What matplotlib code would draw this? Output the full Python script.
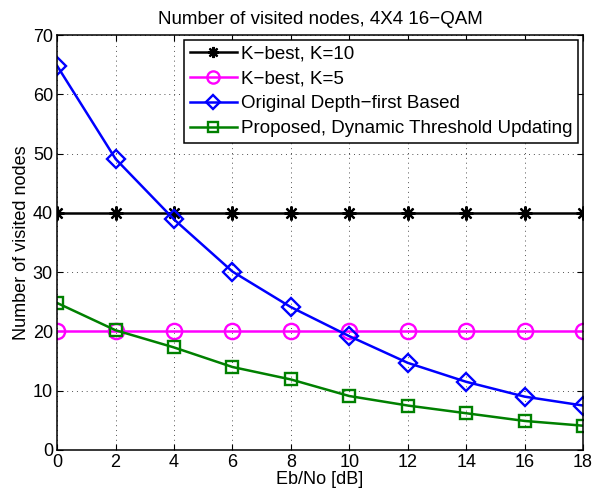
import matplotlib
matplotlib.use('Agg')
import matplotlib.pyplot as plt

plt.rcParams['font.family'] = ['Liberation Sans', 'DejaVu Sans']
plt.rcParams['font.size'] = 13

# Eb/No in dB
ebno = [0, 2, 4, 6, 8, 10, 12, 14, 16, 18]
kbest10 = [40, 40, 40, 40, 40, 40, 40, 40, 40, 40]
kbest5 = [20, 20, 20, 20, 20, 20, 20, 20, 20, 20]
depth_first = [64.8, 49.1, 38.9, 30.1, 24.1, 19.2, 14.7, 11.5, 9.0, 7.5]
proposed = [24.8, 20.2, 17.3, 14.0, 11.9, 9.1, 7.5, 6.2, 4.9, 4.1]

labels = ['K\u2212best, K=10', 'K\u2212best, K=5',
          'Original Depth\u2212first Based',
          'Proposed, Dynamic Threshold Updating']

fig = plt.figure(figsize=(5.95, 5.0), dpi=100)
ax = fig.add_axes([0.096, 0.1, 0.884, 0.83])

ax.plot(ebno, kbest10, color='black', marker=(8, 2, 0), markersize=10, mew=1.6, lw=1.8, label=labels[0])
ax.plot(ebno, kbest5, color='magenta', marker='o', markersize=11, mfc='none', mew=1.7, lw=1.8, label=labels[1])
ax.plot(ebno, depth_first, color='blue', marker='D', markersize=9, mfc='none', mew=1.7, lw=1.8, label=labels[2])
ax.plot(ebno, proposed, color='green', marker='s', markersize=8.5, mfc='none', mew=1.7, lw=1.8, label=labels[3])

ax.set_xlim(0, 18)
ax.set_ylim(0, 70)
ax.set_xticks(range(0, 19, 2))
ax.set_yticks(range(0, 71, 10))
ax.grid(True, linestyle=(0, (1, 4)), color='#505050', linewidth=0.7)
ax.tick_params(direction='in', top=True, right=True, length=4, labelsize=13, pad=3)
for s in ax.spines.values():
    s.set_linewidth(1.1)

ax.set_xlabel('Eb/No [dB]', fontsize=13, labelpad=0)
ax.set_ylabel('Number of visited nodes', fontsize=13, labelpad=2)
ax.set_title('Number of visited nodes, 4X4 16\u2212QAM', fontsize=13.5, pad=8)

leg = ax.legend(loc='upper right', fontsize=13.5, fancybox=False, framealpha=1,
                edgecolor='black', borderpad=0.3, labelspacing=0.42,
                handlelength=2.5, handletextpad=0.25, borderaxespad=0.25,
                markerscale=0.8)
leg.get_frame().set_linewidth(1.1)

fig.savefig('out.png', dpi=100)
